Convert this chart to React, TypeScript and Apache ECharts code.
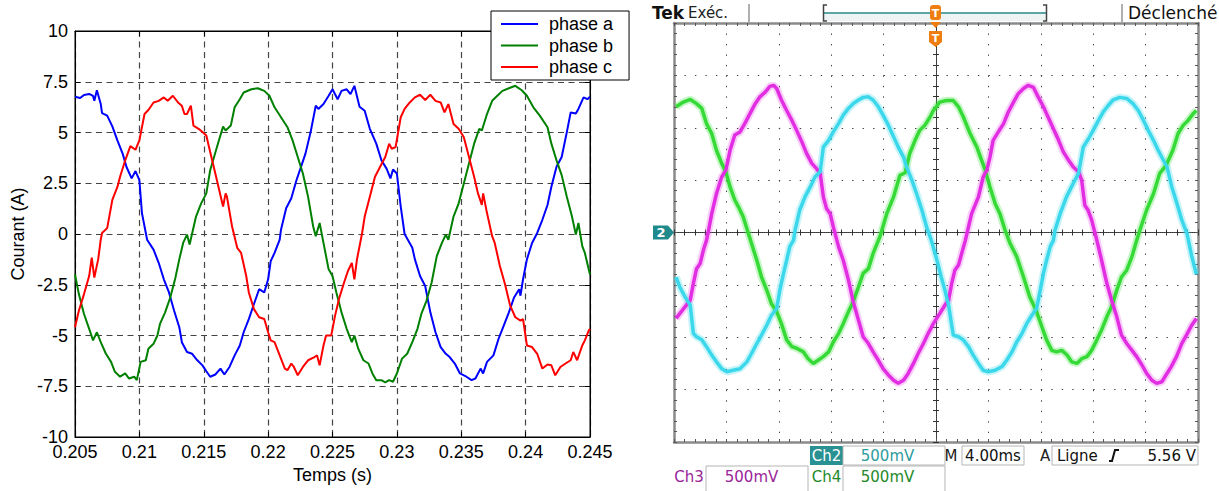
import React, { useEffect, useRef } from "react";
import * as echarts from "echarts";

// ---------------- Left panel: phase currents (time in s, current in A) ----------------
const phaseA: number[][] = [
  [0.205, 6.76], [0.2054, 6.7], [0.2057, 6.85], [0.2061, 6.9], [0.2064, 6.8], [0.2065, 6.56], [0.2067, 7.08],
  [0.207, 6.4], [0.2071, 5.95], [0.2075, 5.83], [0.2079, 5.3], [0.2083, 4.6], [0.2087, 3.96], [0.209, 3.3],
  [0.2094, 2.74], [0.2097, 3.1], [0.21, 2.65], [0.2102, 1.03], [0.2105, 0.05], [0.2106, -0.28], [0.2111, -0.77],
  [0.2115, -1.42], [0.2119, -2.23], [0.2123, -2.88], [0.2127, -3.78], [0.2131, -4.59], [0.2133, -5.33],
  [0.2137, -5.81], [0.2141, -5.9], [0.2145, -6.22], [0.2149, -6.47], [0.2152, -6.76], [0.2155, -7.03],
  [0.2159, -6.92], [0.2163, -6.63], [0.2166, -6.92], [0.217, -6.55], [0.2174, -5.98], [0.2178, -5.49],
  [0.2181, -4.84], [0.2185, -4.19], [0.2189, -3.45], [0.2193, -2.72], [0.2197, -2.88], [0.22, -2.23],
  [0.2202, -1.34], [0.2205, -0.93], [0.2209, -0.28], [0.221, 0.21], [0.2214, 1.27], [0.2218, 1.76],
  [0.2222, 2.65], [0.2226, 3.39], [0.2229, 3.96], [0.2233, 5.02], [0.2237, 6.32], [0.2239, 6.16],
  [0.2243, 6.4], [0.2247, 6.81], [0.225, 7.13], [0.2254, 6.64], [0.2257, 7.05], [0.2261, 7.13], [0.2264, 6.89],
  [0.2267, 7.3], [0.2271, 6.27], [0.2275, 6.07], [0.2279, 5.18], [0.2284, 4.45], [0.2288, 3.63], [0.2292, 3.22],
  [0.2295, 2.74], [0.2297, 3.18], [0.23, 2.98], [0.2303, 1.35], [0.2306, 0.0], [0.2312, -0.68], [0.2314, -1.25],
  [0.2318, -2.07], [0.2322, -2.56], [0.2326, -3.86], [0.233, -4.84], [0.2334, -5.57], [0.2338, -5.9],
  [0.2341, -6.06], [0.2345, -6.38], [0.2349, -6.87], [0.2354, -7.03], [0.2358, -7.2], [0.2361, -7.12],
  [0.2365, -6.63], [0.2367, -6.87], [0.237, -6.3], [0.2375, -5.98], [0.2379, -5.16], [0.2383, -4.51],
  [0.2387, -3.86], [0.2391, -3.13], [0.2395, -2.72], [0.2396, -3.04], [0.2398, -2.23], [0.2401, -1.25],
  [0.2405, -0.44], [0.2409, 0.05], [0.2413, 0.7], [0.2417, 1.43], [0.242, 2.33], [0.2424, 3.31], [0.2428, 3.79],
  [0.2432, 5.02], [0.2435, 5.99], [0.2439, 5.94], [0.2441, 6.16], [0.2445, 6.73], [0.2448, 6.64], [0.245, 6.76],
];

const phaseB: number[][] = [
  [0.205, -1.99], [0.2053, -2.96], [0.2057, -3.94], [0.2061, -4.67], [0.2064, -5.24], [0.2067, -4.84],
  [0.207, -5.33], [0.2074, -5.9], [0.2078, -6.3], [0.2081, -6.79], [0.2085, -7.03], [0.2089, -6.87],
  [0.2092, -7.12], [0.2096, -7.03], [0.2098, -7.2], [0.2101, -6.3], [0.2105, -6.22], [0.2107, -5.65],
  [0.2111, -5.41], [0.2114, -5.0], [0.2116, -4.43], [0.212, -3.86], [0.2124, -3.13], [0.2128, -2.15],
  [0.2131, -1.25], [0.2134, -0.44], [0.2137, -0.03], [0.2139, -0.52], [0.2144, 0.86], [0.2148, 1.51],
  [0.2152, 2.0], [0.2155, 3.14], [0.2161, 4.45], [0.2165, 5.29], [0.2167, 5.1], [0.2171, 5.34], [0.2174, 6.24],
  [0.2178, 6.64], [0.2181, 6.97], [0.2187, 7.13], [0.2192, 7.18], [0.2197, 7.05], [0.2201, 6.81], [0.2205, 6.24],
  [0.221, 5.75], [0.2215, 5.26], [0.2219, 4.61], [0.2223, 3.79], [0.2227, 2.98], [0.2231, 1.84], [0.2235, 0.37],
  [0.2237, -0.11], [0.224, 0.54], [0.2243, -0.44], [0.2247, -1.74], [0.225, -2.07], [0.2253, -2.88],
  [0.2257, -3.86], [0.2261, -4.67], [0.2265, -5.33], [0.2267, -5.0], [0.227, -5.65], [0.2274, -6.22],
  [0.2278, -6.38], [0.2281, -6.87], [0.2284, -7.2], [0.2288, -7.2], [0.2291, -7.31], [0.2294, -7.2],
  [0.2297, -7.28], [0.23, -6.87], [0.2304, -6.14], [0.2308, -5.9], [0.2312, -5.33], [0.2316, -4.67],
  [0.2319, -3.94], [0.2323, -3.29], [0.2327, -2.39], [0.2331, -1.09], [0.2335, -0.44], [0.2338, -0.03],
  [0.234, -0.28], [0.2344, 0.86], [0.2348, 1.51], [0.2352, 2.49], [0.2356, 3.47], [0.236, 4.45], [0.2364, 5.18],
  [0.2366, 5.1], [0.237, 5.91], [0.2374, 6.56], [0.2378, 6.81], [0.2382, 7.05], [0.2387, 7.18], [0.2392, 7.3],
  [0.2397, 7.08], [0.2401, 6.81], [0.2406, 6.24], [0.2411, 5.83], [0.2417, 5.26], [0.242, 4.45], [0.2424, 3.63],
  [0.2428, 2.9], [0.2432, 1.84], [0.2436, 0.86], [0.2439, -0.03], [0.2441, 0.54], [0.2444, -0.6],
  [0.2446, -0.93], [0.2449, -1.74], [0.245, -1.99],
];

const phaseC: number[][] = [
  [0.205, -4.59], [0.2053, -3.78], [0.2057, -2.96], [0.2061, -2.07], [0.2063, -1.17], [0.2065, -2.15],
  [0.2068, -1.25], [0.207, -0.28], [0.2071, 0.05], [0.2075, 0.29], [0.2079, 1.68], [0.2083, 2.33],
  [0.2085, 2.82], [0.2089, 3.63], [0.2093, 4.33], [0.2097, 4.15], [0.21, 4.61], [0.2104, 5.91], [0.2107, 6.11],
  [0.2111, 6.48], [0.2115, 6.56], [0.2119, 6.73], [0.2122, 6.56], [0.2126, 6.81], [0.213, 6.48], [0.2133, 6.32],
  [0.2135, 5.91], [0.2137, 5.91], [0.214, 6.32], [0.2142, 5.34], [0.2146, 5.18], [0.2149, 5.02], [0.2152, 4.85],
  [0.2155, 4.04], [0.2159, 2.98], [0.2162, 2.17], [0.2165, 1.35], [0.2167, 2.0], [0.2168, 1.84], [0.2172, 0.37],
  [0.2176, -0.68], [0.2179, -0.93], [0.2183, -2.07], [0.2185, -2.88], [0.2189, -3.7], [0.2193, -4.1],
  [0.2197, -4.19], [0.22, -4.84], [0.2202, -5.24], [0.2205, -5.33], [0.2209, -5.98], [0.2213, -6.63],
  [0.2215, -6.71], [0.2218, -6.38], [0.222, -6.55], [0.2223, -6.96], [0.2227, -6.55], [0.2231, -6.22],
  [0.2236, -6.06], [0.2238, -5.98], [0.224, -6.47], [0.2243, -5.49], [0.2245, -5.0], [0.2249, -5.0],
  [0.2252, -4.02], [0.2255, -3.21], [0.2259, -2.39], [0.2262, -1.82], [0.2265, -1.42], [0.2267, -2.23],
  [0.2269, -1.25], [0.2272, -0.28], [0.2273, 0.05], [0.2275, 0.86], [0.2279, 1.84], [0.2283, 2.82],
  [0.2287, 3.31], [0.2291, 3.79], [0.2294, 4.45], [0.2296, 4.2], [0.2299, 4.28], [0.2303, 5.75], [0.2306, 6.16],
  [0.231, 6.48], [0.2314, 6.73], [0.2318, 6.86], [0.2322, 6.6], [0.2326, 6.86], [0.233, 6.56], [0.2334, 6.48],
  [0.2337, 5.99], [0.234, 6.4], [0.2344, 5.42], [0.2348, 5.18], [0.2352, 4.77], [0.2356, 3.79], [0.236, 2.82],
  [0.2363, 2.0], [0.2366, 1.43], [0.2367, 2.0], [0.237, 1.03], [0.2374, -0.11], [0.2376, -0.44], [0.238, -1.58],
  [0.2384, -2.48], [0.2388, -3.53], [0.2392, -4.1], [0.2396, -4.27], [0.2398, -4.19], [0.2401, -5.49],
  [0.2405, -5.57], [0.2409, -5.9], [0.2413, -6.63], [0.2417, -6.43], [0.242, -6.47], [0.2423, -6.96],
  [0.2427, -6.55], [0.2431, -6.38], [0.2435, -6.22], [0.2437, -5.81], [0.244, -6.22], [0.2444, -5.49],
  [0.2446, -5.24], [0.2449, -4.76], [0.245, -4.67],
];

const phaseNames = ["phase a", "phase b", "phase c"];
const phaseColors = ["#0000ff", "#008000", "#ff0000"];

// ---------------- Right panel: oscilloscope traces (x, y in divisions) ----------------
const ch4Green: number[][] = [
  [0.04, 2.4], [0.18, 2.49], [0.31, 2.54], [0.43, 2.46], [0.53, 2.37], [0.62, 2.08], [0.72, 1.89], [0.81, 1.57],
  [0.91, 1.32], [0.99, 1.16], [1.07, 0.87], [1.16, 0.62], [1.23, 0.49], [1.32, 0.3], [1.42, -0.02], [1.58, -0.53],
  [1.67, -0.85], [1.77, -1.1], [1.86, -1.36], [1.96, -1.51], [2.05, -1.74], [2.15, -2.05], [2.25, -2.18],
  [2.34, -2.21], [2.47, -2.28], [2.56, -2.41], [2.66, -2.5], [2.75, -2.44], [2.85, -2.37], [2.95, -2.28],
  [3.04, -2.09], [3.14, -1.93], [3.23, -1.74], [3.33, -1.51], [3.42, -1.32], [3.52, -1.04], [3.61, -0.78],
  [3.71, -0.69], [3.8, -0.4], [3.93, -0.08], [4.06, 0.36], [4.19, 0.68], [4.31, 1.09], [4.41, 1.14], [4.5, 1.51],
  [4.6, 1.76], [4.69, 1.95], [4.79, 2.05], [4.89, 2.21], [4.95, 2.33], [5.07, 2.49], [5.2, 2.52], [5.33, 2.52],
  [5.43, 2.4], [5.52, 2.21], [5.65, 1.89], [5.78, 1.63], [5.87, 1.38], [5.94, 1.19], [6.03, 0.87], [6.13, 0.55],
  [6.22, 0.36], [6.32, 0.04], [6.41, -0.2], [6.54, -0.46], [6.67, -0.85], [6.79, -1.23], [6.92, -1.51],
  [7.02, -1.8], [7.11, -2.05], [7.21, -2.25], [7.3, -2.28], [7.4, -2.25], [7.5, -2.34], [7.59, -2.47],
  [7.69, -2.5], [7.78, -2.41], [7.88, -2.37], [7.97, -2.25], [8.07, -2.05], [8.16, -1.86], [8.26, -1.61],
  [8.35, -1.42], [8.45, -1.1], [8.54, -0.85], [8.64, -0.72], [8.74, -0.46], [8.83, -0.15], [8.89, 0.04],
  [9.02, 0.43], [9.15, 0.74], [9.27, 1.13], [9.39, 1.28], [9.52, 1.57], [9.62, 1.89], [9.72, 2.05], [9.81, 2.14],
  [9.91, 2.27], [9.97, 2.33],
];

const ch3Magenta: number[][] = [
  [0.04, -1.64], [0.11, -1.55], [0.21, -1.42], [0.31, -1.29], [0.37, -0.97], [0.43, -0.69], [0.5, -0.59],
  [0.56, -0.34], [0.62, -0.15], [0.66, 0.04], [0.72, 0.36], [0.81, 0.74], [0.91, 1.06], [0.99, 1.19],
  [1.07, 1.57], [1.16, 1.86], [1.26, 1.92], [1.35, 2.08], [1.45, 2.27], [1.55, 2.46], [1.64, 2.59], [1.74, 2.68],
  [1.83, 2.79], [1.9, 2.81], [1.96, 2.75], [2.05, 2.53], [2.15, 2.33], [2.25, 2.14], [2.34, 1.95], [2.44, 1.73],
  [2.53, 1.51], [2.63, 1.32], [2.72, 1.22], [2.79, 1.13], [2.85, 0.68], [2.91, 0.46], [2.98, 0.36], [3.04, 0.11],
  [3.14, -0.27], [3.23, -0.53], [3.33, -0.91], [3.42, -1.32], [3.52, -1.67], [3.61, -1.99], [3.71, -2.12],
  [3.8, -2.28], [3.9, -2.44], [3.99, -2.6], [4.09, -2.72], [4.19, -2.82], [4.28, -2.88], [4.38, -2.82],
  [4.47, -2.69], [4.57, -2.5], [4.66, -2.31], [4.76, -2.12], [4.85, -1.93], [4.95, -1.74], [5.07, -1.55],
  [5.17, -1.39], [5.24, -1.29], [5.3, -0.97], [5.36, -0.72], [5.43, -0.62], [5.49, -0.4], [5.56, -0.15],
  [5.59, -0.02], [5.68, 0.36], [5.81, 0.68], [5.9, 1.06], [5.97, 1.19], [6.03, 1.44], [6.09, 1.76], [6.19, 1.92],
  [6.29, 2.08], [6.38, 2.3], [6.48, 2.49], [6.57, 2.65], [6.67, 2.75], [6.76, 2.81], [6.86, 2.77], [6.95, 2.59],
  [7.05, 2.4], [7.15, 2.18], [7.24, 1.98], [7.34, 1.76], [7.43, 1.54], [7.53, 1.38], [7.62, 1.25], [7.72, 1.16],
  [7.78, 1.0], [7.84, 0.52], [7.9, 0.43], [7.97, 0.24], [8.07, -0.15], [8.16, -0.53], [8.26, -0.97],
  [8.35, -1.29], [8.45, -1.61], [8.54, -1.96], [8.64, -2.12], [8.74, -2.25], [8.83, -2.37], [8.93, -2.53],
  [9.02, -2.69], [9.12, -2.82], [9.21, -2.88], [9.31, -2.85], [9.39, -2.72], [9.49, -2.56], [9.59, -2.37],
  [9.69, -2.12], [9.78, -1.96], [9.88, -1.77], [9.97, -1.64],
];

const ch2Cyan: number[][] = [
  [0.04, -0.85], [0.11, -1.04], [0.21, -1.23], [0.31, -1.39], [0.37, -1.93], [0.43, -1.99], [0.53, -2.05],
  [0.62, -2.18], [0.72, -2.34], [0.81, -2.47], [0.91, -2.6], [1.01, -2.66], [1.13, -2.63], [1.26, -2.6],
  [1.39, -2.47], [1.48, -2.31], [1.58, -2.12], [1.67, -1.96], [1.77, -1.77], [1.86, -1.58], [1.96, -1.45],
  [2.02, -1.1], [2.09, -0.78], [2.15, -0.53], [2.21, -0.27], [2.28, -0.15], [2.31, 0.04], [2.4, 0.43],
  [2.5, 0.68], [2.6, 0.87], [2.69, 1.06], [2.79, 1.16], [2.85, 1.63], [2.95, 1.76], [3.04, 1.92], [3.14, 2.08],
  [3.23, 2.24], [3.33, 2.37], [3.42, 2.46], [3.52, 2.53], [3.61, 2.58], [3.71, 2.59], [3.8, 2.53], [3.9, 2.4],
  [3.99, 2.24], [4.09, 2.05], [4.19, 1.83], [4.28, 1.63], [4.38, 1.44], [4.44, 1.25], [4.54, 1.0], [4.63, 0.74],
  [4.73, 0.43], [4.82, 0.11], [4.92, -0.18], [5.01, -0.5], [5.1, -0.85], [5.17, -1.1], [5.24, -1.39],
  [5.33, -1.96], [5.43, -1.99], [5.52, -2.05], [5.62, -2.18], [5.71, -2.34], [5.81, -2.5], [5.9, -2.63],
  [6.0, -2.66], [6.13, -2.63], [6.26, -2.56], [6.35, -2.44], [6.45, -2.28], [6.54, -2.09], [6.64, -1.93],
  [6.73, -1.74], [6.83, -1.58], [6.92, -1.45], [6.99, -1.1], [7.05, -0.78], [7.11, -0.53], [7.18, -0.27],
  [7.24, -0.15], [7.27, 0.04], [7.37, 0.36], [7.49, 0.68], [7.62, 0.94], [7.72, 1.13], [7.81, 1.63],
  [7.91, 1.79], [8.0, 1.95], [8.1, 2.14], [8.19, 2.3], [8.29, 2.43], [8.38, 2.53], [8.51, 2.58], [8.64, 2.56],
  [8.76, 2.46], [8.86, 2.33], [8.96, 2.14], [9.05, 1.95], [9.15, 1.76], [9.24, 1.57], [9.34, 1.38], [9.41, 1.25],
  [9.5, 0.87], [9.6, 0.55], [9.69, 0.24], [9.79, -0.02], [9.88, -0.45], [9.97, -0.8],
];

const scopeTraces = [
  { name: "Ch4", data: ch4Green, core: "#36da36", halo: "rgba(70,225,70,0.3)" },
  { name: "Ch3", data: ch3Magenta, core: "#e22ee2", halo: "rgba(230,60,230,0.26)" },
  { name: "Ch2", data: ch2Cyan, core: "#3ad8ea", halo: "rgba(70,220,235,0.3)" },
];

// ---------------- helpers ----------------
const SANS = "Liberation Sans";
const TEK = "DejaVu Sans";

function txt(text: string, x: number, y: number, o: any = {}) {
  const align = o.align || "center";
  return {
    type: "text",
    x,
    y,
    silent: true,
    z: 100,
    style: {
      text,
      fill: o.fill || "#111",
      fontSize: o.size || 15,
      fontFamily: o.family || TEK,
      fontWeight: o.weight || "normal",
      align,
      verticalAlign: "middle",
      textAlign: align,
      textVerticalAlign: "middle",
    },
  };
}
function box(x: number, y: number, w: number, h: number, stroke: string, fill = "none", lw = 1) {
  return { type: "rect", silent: true, z: 90, shape: { x, y, width: w, height: h }, style: { fill, stroke, lineWidth: lw } };
}
function seg(x1: number, y1: number, x2: number, y2: number, stroke: string, lw = 1) {
  return { type: "line", silent: true, z: 90, shape: { x1, y1, x2, y2 }, style: { stroke, lineWidth: lw } };
}

const FRAME = "#8a8a8a";
function ruler(grid: number, position: string, max: number) {
  return {
    type: "value",
    gridIndex: grid,
    position,
    min: 0,
    max,
    interval: 1,
    axisLine: { show: true, onZero: false, lineStyle: { color: FRAME, width: 2.5 } },
    axisTick: { show: true, inside: true, length: 3, lineStyle: { color: "#555", width: 1 } },
    axisLabel: { show: false },
    splitLine: { show: false },
  };
}
function centerAxis(grid: number, position: string, max: number, inside: boolean) {
  return {
    type: "value",
    gridIndex: grid,
    position,
    min: 0,
    max,
    interval: 1,
    axisLine: { show: true, onZero: false, lineStyle: { color: "#333", width: 1, type: [1, 1] } },
    axisTick: { show: true, inside, length: 3, lineStyle: { color: "#333", width: 1 } },
    axisLabel: { show: false },
    splitLine: { show: false },
  };
}

const dotted = { color: "#444", width: 1, type: [1.4, 9.08] as any };
const matlabGrid = { color: "#444", width: 1.2, type: [6, 4.5] as any };

export default function App() {
  const ref = useRef<HTMLDivElement>(null);

  useEffect(() => {
    if (!ref.current) return;
    const chart = echarts.init(ref.current, null, { renderer: "svg" });

    const matlabSeries = [phaseA, phaseB, phaseC].map((d, i) => ({
      name: phaseNames[i],
      type: "line",
      xAxisIndex: 0,
      yAxisIndex: 0,
      data: d,
      symbol: "none",
      showSymbol: false,
      lineStyle: { color: phaseColors[i], width: 2 },
      itemStyle: { color: phaseColors[i] },
      z: 3,
    }));

    const haloSeries = scopeTraces.map((t) => ({
      name: t.name + " halo",
      type: "line",
      xAxisIndex: 2,
      yAxisIndex: 2,
      data: t.data,
      symbol: "none",
      silent: true,
      lineStyle: { color: t.halo, width: 7.5 },
      z: 2,
    }));
    const coreSeries = scopeTraces.map((t) => ({
      name: t.name,
      type: "line",
      xAxisIndex: 2,
      yAxisIndex: 2,
      data: t.data,
      symbol: "none",
      silent: true,
      lineStyle: { color: t.core, width: 3.5 },
      z: 3,
    }));

    const option: any = {
      animation: false,
      backgroundColor: "#ffffff",
      grid: [
        { left: 75, top: 31, width: 515, height: 406, show: true, borderColor: "#000", borderWidth: 1, backgroundColor: "transparent" },
        { left: 674, top: 23, width: 524, height: 419 },
        { left: 674, top: 23, width: 524, height: 209.5 },
        { left: 674, top: 23, width: 262, height: 419 },
      ],
      legend: {
        data: phaseNames,
        orient: "vertical",
        left: 491,
        top: 11,
        backgroundColor: "#fff",
        borderColor: "#000",
        borderWidth: 1,
        borderRadius: 0,
        padding: [3, 16, 3, 9],
        itemWidth: 37,
        itemHeight: 14,
        itemGap: 1.5,
        selectedMode: false,
        itemStyle: { opacity: 0 },
        lineStyle: { width: 2 },
        textStyle: { fontSize: 18, color: "#000", fontFamily: SANS, lineHeight: 20, padding: [0, 0, 0, 6] },
      },
      xAxis: [
        {
          type: "value",
          gridIndex: 0,
          position: "bottom",
          min: 0.205,
          max: 0.245,
          interval: 0.005,
          name: "Temps (s)",
          nameLocation: "middle",
          nameGap: 27,
          nameTextStyle: { fontSize: 18, color: "#000", fontFamily: SANS, verticalAlign: "top" },
          axisLine: { show: true, onZero: false, lineStyle: { color: "#000", width: 1 } },
          axisTick: { show: true, inside: true, length: 5, lineStyle: { color: "#000" } },
          axisLabel: {
            fontSize: 18,
            color: "#000",
            fontFamily: SANS,
            margin: 8,
            lineHeight: 14,
            formatter: (v: number) => String(parseFloat(v.toFixed(3))),
          },
          splitLine: { show: true, lineStyle: matlabGrid },
        },
        {
          type: "value",
          gridIndex: 0,
          position: "top",
          min: 0.205,
          max: 0.245,
          interval: 0.005,
          axisLine: { show: true, onZero: false, lineStyle: { color: "#000", width: 1 } },
          axisTick: { show: true, inside: true, length: 5, lineStyle: { color: "#000" } },
          axisLabel: { show: false },
          splitLine: { show: false },
        },
        {
          type: "value",
          gridIndex: 1,
          position: "bottom",
          min: 0,
          max: 10,
          interval: 1,
          axisLine: { show: false, onZero: false },
          axisTick: { show: false },
          axisLabel: { show: false },
          splitLine: { show: true, lineStyle: dotted },
        },
        ruler(1, "bottom", 50),
        ruler(1, "top", 50),
        centerAxis(2, "bottom", 50, true),
        centerAxis(2, "bottom", 50, false),
        { type: "value", gridIndex: 3, show: false, min: 0, max: 1 },
      ],
      yAxis: [
        {
          type: "value",
          gridIndex: 0,
          position: "left",
          min: -10,
          max: 10,
          interval: 2.5,
          name: "Courant (A)",
          nameLocation: "middle",
          nameGap: 48,
          nameRotate: 90,
          nameTextStyle: { fontSize: 18, color: "#000", fontFamily: SANS },
          axisLine: { show: true, onZero: false, lineStyle: { color: "#000", width: 1 } },
          axisTick: { show: true, inside: true, length: 5, lineStyle: { color: "#000" } },
          axisLabel: {
            fontSize: 18,
            color: "#000",
            fontFamily: SANS,
            margin: 7,
            lineHeight: 14,
            formatter: (v: number) => String(parseFloat(v.toFixed(2))),
          },
          splitLine: { show: true, lineStyle: matlabGrid },
        },
        {
          type: "value",
          gridIndex: 0,
          position: "right",
          min: -10,
          max: 10,
          interval: 2.5,
          axisLine: { show: true, onZero: false, lineStyle: { color: "#000", width: 1 } },
          axisTick: { show: true, inside: true, length: 5, lineStyle: { color: "#000" } },
          axisLabel: { show: false },
          splitLine: { show: false },
        },
        {
          type: "value",
          gridIndex: 1,
          position: "left",
          min: -4,
          max: 4,
          interval: 1,
          axisLine: { show: false, onZero: false },
          axisTick: { show: false },
          axisLabel: { show: false },
          splitLine: { show: true, lineStyle: dotted },
        },
        ruler(1, "left", 40),
        ruler(1, "right", 40),
        { type: "value", gridIndex: 2, show: false, min: 0, max: 1 },
        centerAxis(3, "right", 40, true),
        centerAxis(3, "right", 40, false),
      ],
      series: [...haloSeries, ...coreSeries, ...matlabSeries],
      graphic: {
        elements: [
          // top status bar
          txt("Tek", 652, 13, { align: "left", size: 17, weight: "bold", fill: "#111" }),
          txt("Exéc.", 688, 13, { align: "left", size: 15, fill: "#222" }),
          seg(749, 4, 749, 22, "#b0b0b0", 2),
          box(824, 13, 222, 8, "none", "#eef4f4", 0),
          seg(824, 13, 1046, 13, "#5aa6a6", 2),
          { type: "polyline", silent: true, z: 91, shape: { points: [[827, 5], [823.5, 5], [823.5, 21], [827, 21]] }, style: { stroke: "#444", lineWidth: 1.5, fill: "none" } },
          { type: "polyline", silent: true, z: 91, shape: { points: [[1043, 5], [1046.5, 5], [1046.5, 21], [1043, 21]] }, style: { stroke: "#444", lineWidth: 1.5, fill: "none" } },
          seg(1122, 4, 1122, 22, "#b0b0b0", 2),
          txt("Déclenché", 1128, 13, { align: "left", size: 17, fill: "#111" }),
          // trigger markers
          { type: "rect", silent: true, z: 95, shape: { x: 930, y: 5, width: 11, height: 15, r: 3 }, style: { fill: "#f07d10" } },
          txt("T", 935.5, 13, { size: 11, weight: "bold", fill: "#fff" }),
          { type: "polygon", silent: true, z: 95, shape: { points: [[930, 22], [941, 22], [935.5, 28]] }, style: { fill: "#f07d10" } },
          { type: "polygon", silent: true, z: 95, shape: { points: [[929, 31], [942, 31], [942, 42], [935.5, 47], [929, 42]] }, style: { fill: "#f07d10" } },
          txt("T", 935.5, 38.5, { size: 11, weight: "bold", fill: "#fff" }),
          // channel 2 ground marker
          { type: "polygon", silent: true, z: 95, shape: { points: [[653, 225.5], [668, 225.5], [674, 232.5], [668, 239.5], [653, 239.5]] }, style: { fill: "#1f8a8c" } },
          txt("2", 661, 232.5, { size: 13, weight: "bold", fill: "#fff" }),
          // bottom readouts, row 1
          box(810, 446, 33, 19, "none", "#2a9192", 0),
          txt("Ch2", 826.5, 455.5, { size: 15, fill: "#ffffff" }),
          box(843, 446, 102, 19, "#b5b5b5"),
          txt("500mV", 887.5, 455.5, { size: 15, fill: "#2e9b9c" }),
          txt("M", 951, 455.5, { size: 15, fill: "#222" }),
          box(962, 446, 62, 19, "#b5b5b5"),
          txt("4.00ms", 993, 455.5, { size: 15, fill: "#111" }),
          txt("A", 1045, 455.5, { size: 15, fill: "#222" }),
          box(1052, 446, 146, 19, "#b5b5b5"),
          txt("Ligne", 1057, 455.5, { align: "left", size: 15, fill: "#111" }),
          { type: "polyline", silent: true, z: 95, shape: { points: [[1109, 461], [1112, 461], [1115, 450], [1119, 450]] }, style: { stroke: "#111", lineWidth: 2, fill: "none" } },
          txt("5.56 V", 1196, 455.5, { align: "right", size: 15, fill: "#111" }),
          // row 2
          txt("Ch3", 689, 477, { size: 15, fill: "#9a2499" }),
          box(706, 466, 102, 28, "#b5b5b5"),
          txt("500mV", 751.5, 477, { size: 15, fill: "#9a2499" }),
          txt("Ch4", 826.5, 477, { size: 15, fill: "#24892a" }),
          box(843, 466, 102, 28, "#b5b5b5"),
          txt("500mV", 887.5, 477, { size: 15, fill: "#24892a" }),
        ],
      },
    };

    chart.setOption(option);
    return () => chart.dispose();
  }, []);

  return (
    <div
      ref={ref}
      style={{ position: "fixed", left: 0, top: 0, width: 1219, height: 491, background: "#fff" }}
    />
  );
}
